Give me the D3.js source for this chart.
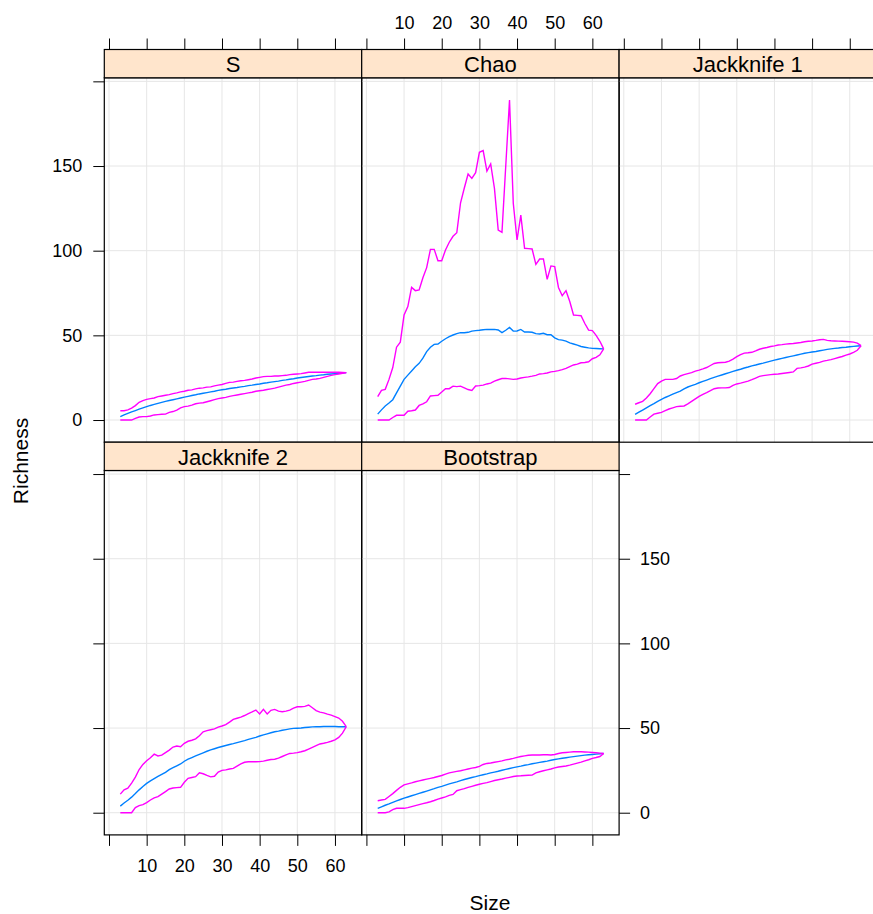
<!DOCTYPE html>
<html><head><meta charset="utf-8">
<script src="https://cdn.jsdelivr.net/npm/d3@7"></script>
<style>
body{margin:0;background:#fff}
text{font-family:"Liberation Sans",Arial,Helvetica,sans-serif;fill:#000}
</style>
</head><body>
<svg id="c" width="873" height="914"></svg>
<script>
const sizes = [3,4,5,6,7,8,9,10,11,12,
  13,14,15,16,17,18,19,20,21,22,
  23,24,25,26,27,28,29,30,31,32,
  33,34,35,36,37,38,39,40,41,42,
  43,44,45,46,47,48,49,50,51,52,
  53,54,55,56,57,58,59,60,61,62,63];

const panelNames = ["S","Chao","Jackknife 1","Jackknife 2","Bootstrap"];
const xTicks = [0,10,20,30,40,50,60];
const yTicks = [0,50,100,150,200];

const S_upper = [5.5,5.5,6,7,8.5,10.5,11.5,12.2,12.6,13,
  13.8,14.2,14.6,15,15.6,16,16.6,17,17.6,17.8,
  18.4,18.8,19,19.4,19.6,20.2,20.6,21,21.6,22.2,
  22.4,22.8,23.2,23.4,23.8,24.2,24.8,25.2,25.6,25.8,
  25.8,26,26,26.2,26.4,26.8,27,27.2,27.4,27.8,
  28.2,28.2,28.2,28.2,28.2,28.2,28.2,28.2,28.2,28.1,28];
const S_mean = [2,3,3.9,4.8,5.6,6.4,7.2,7.9,8.6,9.2,
  9.8,10.4,11,11.5,12,12.5,13,13.5,14,14.5,
  14.9,15.4,15.8,16.2,16.6,17,17.5,17.9,18.2,18.6,
  18.9,19.2,19.6,19.9,20.3,20.6,21,21.3,21.7,22,
  22.4,22.7,23,23.4,23.7,24.1,24.4,24.8,25.1,25.4,
  25.7,26,26.2,26.5,26.7,27,27.2,27.4,27.6,27.8,28];
const S_lower = [0,0,0,0,1,1.8,2,2,2.4,3,
  3.2,3.4,3.5,4.5,5,5.8,7.2,7.9,8.2,8.8,
  9.6,10,10.2,10.8,11.4,12,12.6,13,13.4,14,
  14.4,14.8,15.2,15.6,16,16.4,17,17.3,17.6,18,
  18.4,18.8,19.4,20,20.6,21,21.6,22,22.4,22.8,
  23.4,24,24.2,24.6,25.2,25.8,26.4,26.8,27.2,27.6,28];

const Chao_upper = [13.8,17.5,18.1,24,31,43,46,62,67,78.3,
  76.4,76.8,84,90,100.8,100.8,94.1,94.1,100.4,105,
  108.5,110.6,128.3,137,145.3,142.7,146.1,158.1,159.1,147,
  151.2,136.8,112.2,110.8,150,189,128,106.3,121,101.4,
  101.2,101,91.9,95.1,95.1,83.1,91,90.6,78.3,73.4,
  76.4,70,62,61.8,61.6,57,53.1,52.8,50,46.5,42];
const Chao_mean = [3.5,6,8.3,10,12,16,20,24,26.5,29,
  31.5,33.5,36.5,40.4,43,44.7,44.9,46.5,48,49.2,
  50.2,51,51.6,51.5,51.8,52.5,52.8,53,53.3,53.5,
  53.5,53.5,53.2,51.6,53,54.7,52.5,52.6,53.5,52,
  52,51.8,51,50.8,51.2,50.4,50.4,48.5,47.5,47.2,
  46.6,45.6,44.9,44.2,43.4,43,42.6,42.3,42.2,42.1,42];
const Chao_lower = [0,0,0,0,1.5,2.8,2.8,2.8,5.2,5.5,
  5.9,8.6,9.5,10.8,14.2,14.4,14.6,16.5,18.5,18.5,
  20,19.7,20,19,18,17.5,20.1,20.3,20.6,21.3,
  21.8,23,23.8,24.5,24.6,24.3,24,24.2,24.8,25.2,
  25.5,25.9,26.4,27.2,27.4,27.8,28.4,28.7,29.2,29.8,
  30.5,31.5,32.5,33,33.8,34,34.4,36.2,37,38.5,42];

const Jack1_upper = [9.3,10.2,11,13,15.5,18.5,21.5,23,24,24,
  24,24.5,26,26.8,27.4,28,28.9,29.5,30.2,31,
  32.2,33.4,33.8,34,34.1,34.8,36,37.4,38.6,39.5,
  39.7,40,40.8,41.8,42.4,42.8,43.4,43.8,44.3,44.5,
  44.8,45,45.2,45.5,45.8,46.2,46.5,46.7,47,47.4,
  47.6,47,46.8,46.7,46.6,46.5,46.4,46.2,46,45.4,43.9];
const Jack1_mean = [3.3,4.6,5.9,7.2,8.5,9.7,11,12.2,13.3,14.3,
  15.3,16.2,17.1,18.4,19.5,20.3,21.1,22,22.8,23.6,
  24.4,25.2,25.9,26.6,27.3,28,28.7,29.4,30,30.7,
  31.3,32,32.5,33.1,33.6,34.2,34.8,35.4,35.9,36.4,
  36.9,37.4,37.9,38.4,38.9,39.4,39.8,40.2,40.5,40.9,
  41.3,41.7,42,42.3,42.5,42.8,43,43.3,43.5,43.7,43.9];
const Jack1_lower = [0,0,0,0,1.8,3.5,4,4.5,5.5,6.5,
  7.2,7.9,8.1,8.3,9.5,11,12.5,14,15.2,16.2,
  17.3,18.5,18.9,19,19,19.2,20.5,21.3,21.8,22.4,
  23,23.8,24.8,25.8,26.2,26.5,26.8,27,27.2,27.5,
  27.8,28.1,28.4,30.5,30.8,31.2,31.9,33,33.5,34,
  34.8,35.2,35.7,36.3,36.9,37.5,38.3,39,40,41.2,43.9];

const Jack2_upper = [11,13.5,14.5,17.5,21,25.5,28.5,30.7,32.5,34.6,
  33.5,34,35.5,37,38.8,39.4,39,41,42.2,42.8,
  43.6,45.5,47.8,48.5,49,49.5,50.5,51.2,52,53.5,
  55.1,55.8,56.5,57.4,58.5,59.5,60.6,58.3,61,58.3,
  60.5,61,60,59.6,60,60.6,61.8,62.6,62.6,62.8,
  63.6,62,60.3,59.4,59,58.2,57.6,56.8,55.9,54,50.8];
const Jack2_mean = [3.9,5.7,7.4,9.2,11.3,13.5,15.5,17.3,18.8,20.1,
  21.4,22.6,23.8,25.4,26.6,27.7,28.8,30.4,31.6,32.6,
  33.6,34.5,35.4,36.3,37.1,37.8,38.5,39.1,39.7,40.3,
  40.8,41.4,42,42.6,43.3,43.9,44.5,45.3,46,46.6,
  47.2,47.8,48.2,48.7,49.1,49.5,49.8,49.9,50,50.3,
  50.5,50.7,50.8,50.8,50.9,50.9,50.9,50.9,50.8,50.8,50.8];
const Jack2_lower = [0,0,0,0,3,4.2,4.8,6,7.5,8.8,
  9.5,11,12.5,14,14.6,14.8,15,18,20.3,20.8,
  21.3,23.6,23,22,21.2,21.5,24,25,25.3,25.8,
  26.2,27.5,28.8,29.8,30.1,30.1,30.1,30.2,30.5,31,
  31.4,31.6,32.2,33.2,34.2,35,35.2,35.5,36,36.6,
  37.6,38.6,39.6,40.6,41,41.5,42.2,43,44.5,47,50.8];

const Boot_upper = [7.1,7.5,7.9,9.6,11.3,13.2,15,16.4,17,17.6,
  18.3,18.8,19.3,19.8,20.3,20.8,21.4,22,22.8,23.5,
  24,24.4,24.8,25.3,25.8,26.3,26.7,27.4,28.5,29.1,
  29.4,29.8,30.2,30.6,31.2,31.6,32.1,32.7,33.2,33.6,
  33.9,34.1,34.1,34.1,34.2,34.2,34.1,34.4,35,35.4,
  35.6,35.8,36,36,36,35.9,35.8,35.6,35.4,35.2,35];
const Boot_mean = [2.6,3.5,4.4,5.2,6.1,7,7.8,8.6,9.3,10,
  10.7,11.4,12.1,12.8,13.5,14.2,15,15.6,16.3,17,
  17.6,18.2,19,19.6,20.2,20.8,21.3,21.9,22.4,22.9,
  23.5,24,24.5,25.1,25.6,26.1,26.6,27.1,27.5,28,
  28.4,28.9,29.3,29.7,30.1,30.5,31,31.4,31.8,32.2,
  32.5,32.8,33.1,33.4,33.7,34,34.2,34.4,34.6,34.8,35];
const Boot_lower = [0,0,0,0.5,1.8,2.6,2.6,2.6,3,3.6,
  4.2,4.8,5.4,5.9,6.5,7.2,8,8.7,9.4,10.2,
  10.8,13,13.6,14.2,15,15.6,16.2,16.8,17.3,17.8,
  18.4,19,19.5,19.9,20.4,20.9,21.4,21.7,21.8,22,
  22.1,22.2,23.5,24.2,24.8,25.3,25.8,26.5,27,27.3,
  27.6,28.1,28.7,29.3,29.9,30.6,31.3,32.1,32.6,33.2,35];

const meanCol = "#0080ff", boundCol = "#ff00ff";

const panels = [
  {name: panelNames[0], col:0, row:0, mean:S_mean, lower:S_lower, upper:S_upper},
  {name: panelNames[1], col:1, row:0, mean:Chao_mean, lower:Chao_lower, upper:Chao_upper},
  {name: panelNames[2], col:2, row:0, mean:Jack1_mean, lower:Jack1_lower, upper:Jack1_upper},
  {name: panelNames[3], col:0, row:1, mean:Jack2_mean, lower:Jack2_lower, upper:Jack2_upper},
  {name: panelNames[4], col:1, row:1, mean:Boot_mean, lower:Boot_lower, upper:Boot_upper}
];

const svg = d3.select("#c");
const left0 = 104.3, pw = 257.4, rowTop = [49.5, 442.2], sh = 28.3, ph = 364.4;
const xDom = [-1.25, 67.1], yDom = [-13.1, 202.1];
const tickFont = "18px", stripFont = "22px";

function styleAxis(g){
  g.select(".domain").remove();
  g.selectAll(".tick line").attr("stroke","#000").attr("stroke-width",1);
  g.selectAll(".tick text").attr("font-size",tickFont).attr("font-family",'"Liberation Sans",Arial,sans-serif').attr("fill","#000");
}

panels.forEach((p,i) => {
  const x0 = left0 + p.col*pw;
  const sy = rowTop[p.row];
  const y0 = sy + sh;
  const xs = d3.scaleLinear().domain(xDom).range([x0, x0+pw]);
  const ys = d3.scaleLinear().domain(yDom).range([y0+ph, y0]);

  const g = svg.append("g");
  const clipId = "clip"+i;
  g.append("clipPath").attr("id",clipId).append("rect")
    .attr("x",x0).attr("y",y0).attr("width",pw).attr("height",ph);

  const pg = g.append("g").attr("clip-path","url(#"+clipId+")");
  // grid
  pg.selectAll("line.gx").data(xTicks).enter().append("line")
    .attr("x1",d=>xs(d)).attr("x2",d=>xs(d)).attr("y1",y0).attr("y2",y0+ph)
    .attr("stroke","#e6e6e6").attr("stroke-width",1);
  pg.selectAll("line.gy").data(yTicks).enter().append("line")
    .attr("y1",d=>ys(d)).attr("y2",d=>ys(d)).attr("x1",x0).attr("x2",x0+pw)
    .attr("stroke","#e6e6e6").attr("stroke-width",1);

  const line = d3.line().x((d,k)=>xs(sizes[k])).y(d=>ys(d));
  pg.append("path").datum(p.mean).attr("d",line).attr("fill","none").attr("stroke",meanCol).attr("stroke-width",1.4);
  pg.append("path").datum(p.lower).attr("d",line).attr("fill","none").attr("stroke",boundCol).attr("stroke-width",1.4);
  pg.append("path").datum(p.upper).attr("d",line).attr("fill","none").attr("stroke",boundCol).attr("stroke-width",1.4);

  // panel border
  g.append("rect").attr("x",x0).attr("y",y0).attr("width",pw).attr("height",ph)
    .attr("fill","none").attr("stroke","#000").attr("stroke-width",1.2);
  // strip
  g.append("rect").attr("x",x0).attr("y",sy).attr("width",pw).attr("height",sh)
    .attr("fill","#ffe5cc").attr("stroke","#000").attr("stroke-width",1.2);
  g.append("text").attr("x",x0+pw/2).attr("y",sy+22.8).attr("text-anchor","middle")
    .attr("font-size",stripFont).text(p.name);

  // axes
  const xfmt = d => d===0 ? "" : d;
  const yfmt = d => d===200 ? "" : d;
  if (p.row===0) {
    const ax = d3.axisTop(xs).tickValues(xTicks).tickSize(11).tickPadding(9.5)
      .tickFormat(p.col===1 ? xfmt : ()=>"");
    g.append("g").attr("transform","translate(0,"+sy+")").call(ax).call(styleAxis);
  } else {
    const ax = d3.axisBottom(xs).tickValues(xTicks).tickSize(11).tickPadding(13)
      .tickFormat(p.col===0 ? xfmt : ()=>"");
    g.append("g").attr("transform","translate(0,"+(y0+ph)+")").call(ax).call(styleAxis);
  }
  if (p.col===0) {
    const ay = d3.axisLeft(ys).tickValues(yTicks).tickSize(11).tickPadding(11)
      .tickFormat(p.row===0 ? yfmt : ()=>"");
    g.append("g").attr("transform","translate("+x0+",0)").call(ay).call(styleAxis);
  }
  if (p.row===1 && p.col===1) {
    const ay = d3.axisRight(ys).tickValues(yTicks).tickSize(11).tickPadding(10)
      .tickFormat(yfmt);
    g.append("g").attr("transform","translate("+(x0+pw)+",0)").call(ay).call(styleAxis);
  }
});

svg.append("text").attr("transform","translate(28,461) rotate(-90)")
  .attr("text-anchor","middle").attr("font-size","21px").text("Richness");
svg.append("text").attr("x",490).attr("y",910)
  .attr("text-anchor","middle").attr("font-size","21px").text("Size");
</script>
</body></html>
